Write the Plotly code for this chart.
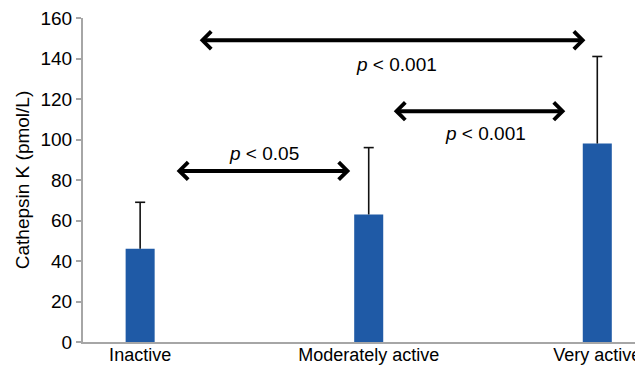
import plotly.graph_objects as go

categories = ["Inactive", "Moderately active", "Very active"]
means = [46, 63, 98]
sd_upper = [23, 33, 43]
y_ticks = [0, 20, 40, 60, 80, 100, 120, 140, 160]

# comparisons: (from position, to position, y level, label, label x, label y)
comparisons = [
    (0.254, 1.948, 149, "<i>p</i> &lt; 0.001", 1.12, 137),
    (1.103, 1.860, 114, "<i>p</i> &lt; 0.001", 1.51, 103),
    (0.153, 0.919, 84.5, "<i>p</i> &lt; 0.05", 0.54, 93),
]

xpos = list(range(len(categories)))
FONT = "Liberation Sans, Arial, Helvetica, sans-serif"

fig = go.Figure()
fig.add_trace(go.Bar(
    x=xpos, y=means, width=0.127,
    marker=dict(color="#1f5aa6", line=dict(width=0)),
))

# upper-only error bars (stem + cap), built from the data
CAP = 0.022
ex, ey = [], []
for x, m, s in zip(xpos, means, sd_upper):
    ex += [x, x, None, x - CAP, x + CAP, None]
    ey += [m, m + s, None, m + s, m + s, None]
fig.add_trace(go.Scatter(
    x=ex, y=ey, mode="lines", line=dict(color="#111111", width=1.6),
    hoverinfo="skip",
))

annotations = []
for x0, x1, yv, label, lx, ly in comparisons:
    annotations.append(dict(
        x=x1, y=yv, ax=x0, ay=yv, xref="x", yref="y", axref="x", ayref="y",
        text="", showarrow=True, arrowside="end+start",
        arrowhead=4, startarrowhead=4, arrowsize=0.85, startarrowsize=0.85,
        arrowwidth=4, arrowcolor="black",
    ))
    annotations.append(dict(
        x=lx, y=ly, xref="x", yref="y", text=label, showarrow=False,
        font=dict(family=FONT, size=19, color="black"),
    ))

# body of the page has an 8px margin, so margins are shifted by 8px
fig.update_layout(
    width=643, height=367,
    margin=dict(l=75, r=8, t=10, b=33, autoexpand=False),
    paper_bgcolor="white", plot_bgcolor="white",
    showlegend=False,
    font=dict(family=FONT, size=19, color="black"),
    annotations=annotations,
    xaxis=dict(
        range=[-0.25, 2.2], tickvals=xpos, ticktext=categories,
        showline=True, linecolor="#a6a6a6", linewidth=2,
        ticks="", showgrid=False, zeroline=False,
        tickfont=dict(size=18), ticklabelstandoff=-5, fixedrange=True,
        ticklabeloverflow="allow", automargin=False,
    ),
    yaxis=dict(
        range=[0, 160], tickvals=y_ticks,
        showline=True, linecolor="#a6a6a6", linewidth=2,
        ticks="outside", ticklen=5, tickcolor="#a6a6a6", tickwidth=1.5,
        showgrid=False, zeroline=False,
        tickfont=dict(size=19), ticklabeloverflow="allow", automargin=False,
        title=dict(text="Cathepsin K (pmol/L)", font=dict(size=19), standoff=6),
    ),
)

fig.write_html("out.html")
